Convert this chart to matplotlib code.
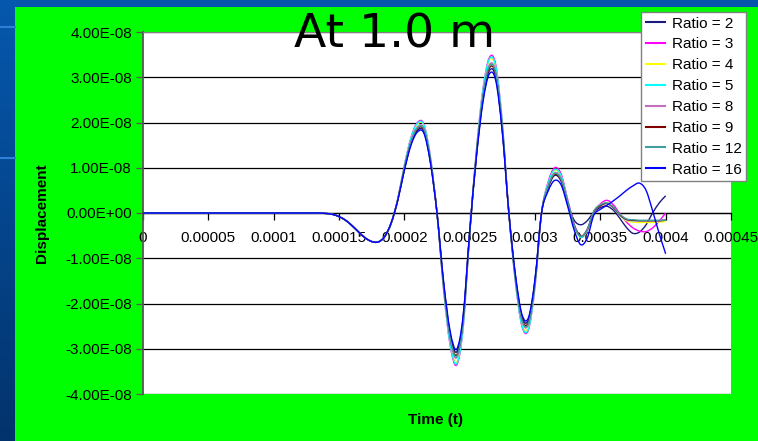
import numpy as np
import matplotlib
matplotlib.use("Agg")
import matplotlib.pyplot as plt
from matplotlib.path import Path
from matplotlib.patches import PathPatch, Rectangle
from matplotlib.lines import Line2D
from matplotlib.ticker import FuncFormatter

# time in units of 1e-4 s, displacement in units of 1e-8
time_1e4 = [0, 1.30, 1.35, 1.40, 1.45, 1.50, 1.55, 1.60, 1.65, 1.70, 1.75, 1.80, 1.85,
            1.90, 1.95, 2.00, 2.05, 2.10, 2.15, 2.20, 2.25, 2.30, 2.35, 2.40, 2.45, 2.50,
            2.55, 2.60, 2.65, 2.70, 2.75, 2.80, 2.85, 2.90, 2.95, 3.00, 3.05,
            3.10, 3.15, 3.20, 3.25, 3.30, 3.35, 3.40, 3.45, 3.50, 3.55, 3.60, 3.65,
            3.70, 3.75, 3.80, 3.85, 3.90, 3.95, 4.00]

start = [0, 0, 0, -0.01, -0.03, -0.08, -0.16, -0.28, -0.42, -0.55, -0.63, -0.64, -0.52]

ratio_2 = start + [-0.21, 0.29, 0.96, 1.52, 1.82, 1.80, 1.12, 0.00, -1.54, -2.66, -3.07, -2.32, -0.43,
                   1.22, 2.47, 3.14, 2.99, 1.81, 0.00, -1.39, -2.28, -2.36, -1.49, 0.00,
                   0.55, 0.83, 0.70, 0.22, -0.16, -0.26, -0.17, 0.02, 0.12, 0.15, 0.06, -0.12,
                   -0.32, -0.45, -0.42, -0.26, 0.00, 0.22, 0.38]
ratio_3 = start + [-0.23, 0.32, 1.05, 1.66, 2.00, 1.96, 1.23, 0.00, -1.68, -2.91, -3.36, -2.54, -0.47,
                   1.33, 2.70, 3.43, 3.27, 1.98, 0.00, -1.52, -2.50, -2.58, -1.63, 0.00,
                   0.68, 1.00, 0.86, 0.30, -0.25, -0.52, -0.40, 0.02, 0.20, 0.28, 0.18, -0.02,
                   -0.20, -0.33, -0.40, -0.41, -0.33, -0.18, 0.00]
ratio_4 = start + [-0.23, 0.31, 1.03, 1.63, 1.96, 1.93, 1.21, 0.00, -1.65, -2.85, -3.30, -2.49, -0.46,
                   1.31, 2.65, 3.37, 3.20, 1.95, 0.00, -1.49, -2.45, -2.53, -1.60, 0.00,
                   0.63, 0.94, 0.80, 0.26, -0.28, -0.54, -0.38, 0.03, 0.18, 0.23, 0.13, -0.06,
                   -0.17, -0.20, -0.21, -0.21, -0.21, -0.20, -0.19]
ratio_5 = start + [-0.23, 0.31, 1.04, 1.64, 1.98, 1.94, 1.22, 0.00, -1.66, -2.88, -3.33, -2.52, -0.47,
                   1.32, 2.67, 3.40, 3.23, 1.97, 0.00, -1.51, -2.48, -2.56, -1.61, 0.00,
                   0.65, 0.96, 0.82, 0.27, -0.28, -0.54, -0.38, 0.03, 0.17, 0.22, 0.12, -0.05,
                   -0.15, -0.17, -0.17, -0.17, -0.17, -0.17, -0.16]
ratio_8 = start + [-0.22, 0.30, 1.00, 1.58, 1.90, 1.87, 1.17, 0.00, -1.60, -2.77, -3.20, -2.42, -0.45,
                   1.27, 2.57, 3.27, 3.11, 1.89, 0.00, -1.45, -2.38, -2.46, -1.55, 0.00,
                   0.59, 0.89, 0.76, 0.25, -0.27, -0.52, -0.37, 0.03, 0.16, 0.21, 0.12, -0.05,
                   -0.15, -0.17, -0.17, -0.17, -0.17, -0.17, -0.16]
ratio_9 = start + [-0.22, 0.29, 0.98, 1.55, 1.86, 1.83, 1.15, 0.00, -1.57, -2.71, -3.14, -2.37, -0.44,
                   1.24, 2.52, 3.20, 3.05, 1.85, 0.00, -1.42, -2.33, -2.41, -1.52, 0.00,
                   0.56, 0.85, 0.72, 0.24, -0.27, -0.51, -0.36, 0.03, 0.16, 0.21, 0.12, -0.04,
                   -0.14, -0.16, -0.17, -0.17, -0.17, -0.17, -0.16]
ratio_12 = start + [-0.22, 0.30, 0.99, 1.56, 1.88, 1.85, 1.16, 0.00, -1.58, -2.74, -3.17, -2.40, -0.45,
                    1.26, 2.54, 3.24, 3.08, 1.87, 0.00, -1.44, -2.36, -2.44, -1.53, 0.00,
                    0.58, 0.87, 0.74, 0.25, -0.27, -0.52, -0.36, 0.04, 0.18, 0.22, 0.13, -0.03,
                    -0.13, -0.15, -0.16, -0.16, -0.16, -0.16, -0.16]
ratio_16 = start + [-0.21, 0.28, 0.94, 1.49, 1.79, 1.76, 1.10, 0.00, -1.50, -2.60, -3.01, -2.27, -0.42,
                    1.19, 2.42, 3.07, 2.92, 1.78, 0.00, -1.36, -2.24, -2.31, -1.46, 0.00,
                    0.48, 0.72, 0.62, 0.15, -0.38, -0.70, -0.55, -0.05, 0.08, 0.17, 0.27, 0.38,
                    0.50, 0.60, 0.66, 0.50, 0.05, -0.45, -0.90]

labels = ["Ratio = 2", "Ratio = 3", "Ratio = 4", "Ratio = 5",
          "Ratio = 8", "Ratio = 9", "Ratio = 12", "Ratio = 16"]
series = [ratio_2, ratio_3, ratio_4, ratio_5, ratio_8, ratio_9, ratio_12, ratio_16]
colors = ["#1a1a80", "#ff00ff", "#ffff00", "#00ffff",
          "#c070c0", "#800000", "#40a0a0", "#0000ff"]

xtick_vals = [0, 0.00005, 0.0001, 0.00015, 0.0002, 0.00025, 0.0003, 0.00035, 0.0004, 0.00045]
xtick_labels = ["0", "0.00005", "0.0001", "0.00015", "0.0002", "0.00025",
                "0.0003", "0.00035", "0.0004", "0.00045"]
ytick_vals = np.arange(-4, 5) * 1e-8


def smooth_path(x, y):
    # excel-like smoothed line: cubic hermite drawn as bezier segments
    n = len(x)
    s = np.zeros(n)
    for i in range(n):
        a = max(i - 1, 0)
        b = min(i + 1, n - 1)
        s[i] = (y[b] - y[a]) / (x[b] - x[a])
    verts = [(x[0], y[0])]
    codes = [Path.MOVETO]
    for i in range(n - 1):
        h = x[i + 1] - x[i]
        verts += [(x[i] + h / 3, y[i] + s[i] * h / 3),
                  (x[i + 1] - h / 3, y[i + 1] - s[i + 1] * h / 3),
                  (x[i + 1], y[i + 1])]
        codes += [Path.CURVE4] * 3
    return Path(verts, codes)


W, H = 758, 441
fig = plt.figure(figsize=(W / 100, H / 100), dpi=100)

# slide background
bg = fig.add_axes([0, 0, 1, 1], zorder=-10)
grad = np.linspace(0, 1, 256)[:, None]
top = np.array([0x06, 0x58, 0xae]) / 255
bot = np.array([0x03, 0x33, 0x6c]) / 255
img = top[None, None, :] * (1 - grad[:, :, None]) + bot[None, None, :] * grad[:, :, None]
bg.imshow(img, extent=[0, 1, 0, 1], aspect="auto")
for yy in [27, 158]:
    bg.plot([0, 15 / W], [1 - yy / H] * 2, color="#2f80d8", lw=1.5)
bg.add_patch(Rectangle((15 / W, 0), 1 - 15 / W, 1 - 7 / H, color="#00ff00", lw=0))
bg.set_xlim(0, 1)
bg.set_ylim(0, 1)
bg.axis("off")

ax = fig.add_axes([143 / W, 1 - 394 / H, (731 - 143) / W, (394 - 32) / H])
ax.set_facecolor("white")

t = np.array(time_1e4) * 1e-4
for vals, c in zip(series, colors):
    y = np.array(vals) * 1e-8
    ax.add_patch(PathPatch(smooth_path(t, y), facecolor="none", edgecolor=c, lw=1.0, zorder=3))

ax.set_xlim(0, 0.00045)
ax.set_ylim(-4e-8, 4e-8)
ax.set_xticks(xtick_vals)
ax.set_xticklabels(xtick_labels)
ax.set_yticks(ytick_vals)
ax.yaxis.set_major_formatter(FuncFormatter(lambda v, p: f"{v:.2E}"))
ax.yaxis.grid(True, color="black", lw=0.9)
ax.set_axisbelow(True)

ax.spines["bottom"].set_position(("data", 0))
ax.spines["bottom"].set_color("black")
ax.spines["bottom"].set_linewidth(0.9)
ax.spines["right"].set_visible(False)
ax.spines["top"].set_color("#808080")
ax.spines["left"].set_color("#555555")
ax.spines["left"].set_linewidth(1.3)

ax.tick_params(axis="x", direction="out", length=5, width=0.9, color="black",
               pad=8, labelsize=11, labelfontfamily="Liberation Sans")
ax.tick_params(axis="y", direction="out", length=5, width=0.9, color="#555555",
               pad=3, labelsize=11, labelfontfamily="Liberation Sans")

handles = [Line2D([], [], color=c, lw=1.5) for c in colors]
leg = fig.legend(handles, labels, loc="upper left",
                 bbox_to_anchor=(641 / W, 1 - 12 / H), bbox_transform=fig.transFigure,
                 prop={"family": "Liberation Sans", "size": 11},
                 frameon=True, fancybox=False, framealpha=1, edgecolor="#808080",
                 borderpad=0.3, labelspacing=0.45, handlelength=1.3, handletextpad=0.4,
                 borderaxespad=0)
leg.get_frame().set_linewidth(1.0)

fig.text(395 / W, 1 - 48 / H, "At 1.0 m", ha="center", va="baseline",
         fontsize=34, family="DejaVu Sans")
fig.text(42 / W, 1 - 213 / H, "Displacement", rotation=90, ha="center", va="center",
         fontsize=11, weight="bold", family="Liberation Sans")
fig.text(436 / W, 1 - 420 / H, "Time (t)", ha="center", va="center",
         fontsize=11, weight="bold", family="Liberation Sans")

fig.savefig("out.png", dpi=100)
